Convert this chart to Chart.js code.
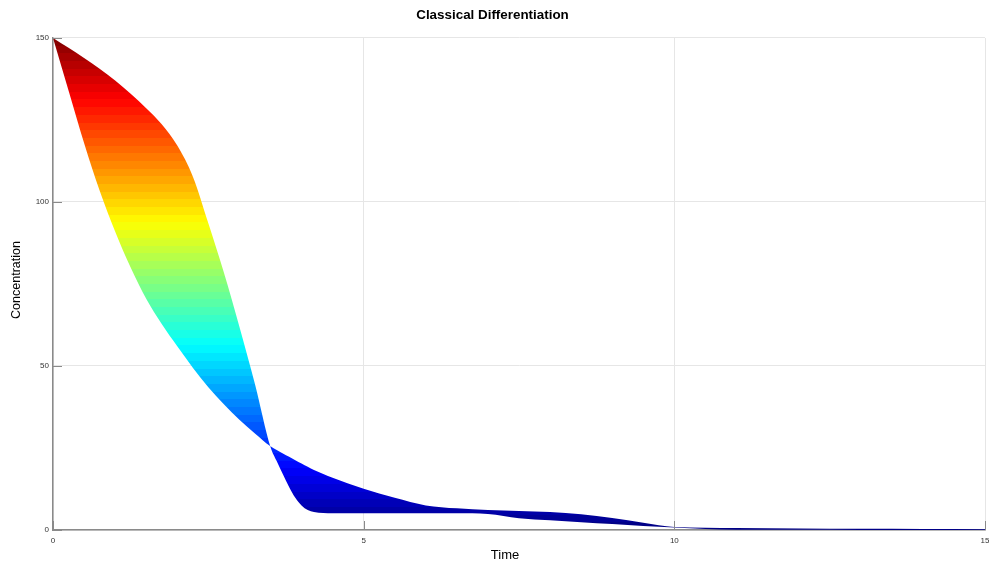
<!DOCTYPE html>
<html>
<head>
<meta charset="utf-8">
<title>Classical Differentiation</title>
<script src="https://cdn.jsdelivr.net/npm/chart.js@4.4.1/dist/chart.umd.min.js"></script>
<style>
  html, body { margin: 0; padding: 0; background: #fff; }
  canvas { display: block; }
</style>
</head>
<body>
<canvas id="chart" width="989" height="565"></canvas>
<script>
// time grid shared by both curves
const times = [0, 0.25, 0.5, 0.75, 1, 1.25, 1.5, 1.75, 2, 2.25, 2.5, 2.75, 3, 3.25, 3.5, 3.6, 3.7, 3.8, 3.9, 4, 4.1, 4.2, 4.35, 4.5, 5, 5.5, 6, 6.5, 7, 7.5, 8, 8.5, 9, 9.5, 10, 11, 12, 13, 14, 15];
// right-hand curve (slow start, steep drop, flat plateau)
const concA = [150, 147, 143.9, 140.6, 137, 133, 128.6, 123.7, 117.2, 107.8, 93.5, 78.5, 62, 44.5, 25.3, 21, 17, 13.1, 9.8, 7.5, 6.1, 5.45, 5.15, 5.1, 5.1, 5.1, 5.1, 5.1, 4.85, 3.6, 2.95, 2.4, 1.8, 1.2, 0.8, 0.1, 0.05, 0.03, 0.02, 0.01];
// left-hand curve (fast decay)
const concB = [150, 134, 118, 103.5, 91, 80, 70.5, 62.8, 56, 49.5, 43.5, 38.3, 33.6, 29.4, 25.5, 24.4, 23.3, 22.3, 21.3, 20.3, 19.3, 18.3, 17.1, 15.9, 12.6, 9.8, 7.5, 6.6, 6.1, 5.8, 5.45, 4.8, 3.65, 2.2, 0.9, 0.6, 0.45, 0.35, 0.3, 0.25];
const xTicks = [0, 5, 10, 15];
const yTicks = [0, 50, 100, 150];

// jet colormap, v in [0,1]
function jet(v) {
    const c = x => Math.round(255 * Math.min(1, Math.max(0, x)));
    return `rgb(${c(1.5 - Math.abs(4 * v - 3))},${c(1.5 - Math.abs(4 * v - 2))},${c(1.5 - Math.abs(4 * v - 1))})`;
}

let gradCache = null;
function jetFill(context) {
    const chart = context.chart;
    const { ctx, chartArea, scales } = chart;
    if (!chartArea) return null;
    const key = chartArea.top + ':' + chartArea.bottom;
    if (gradCache && gradCache.key === key) return gradCache.grad;
    const y0 = scales.y.getPixelForValue(0);
    const y1 = scales.y.getPixelForValue(150);
    const grad = ctx.createLinearGradient(0, y0, 0, y1);
    const levels = 64;
    for (let i = 0; i < levels; i++) {
        const col = jet((i + 0.5) / levels);
        grad.addColorStop(i / levels, col);
        grad.addColorStop((i + 1) / levels, col);
    }
    gradCache = { key, grad };
    return grad;
}

const font = 'Liberation Sans, Arial, Helvetica, sans-serif';

// small tick marks inside the plot area + the x axis label
const insideTicks = {
    id: 'insideTicks',
    afterDraw(chart) {
        const { ctx, chartArea, scales } = chart;
        ctx.save();
        ctx.strokeStyle = '#8a8a8a';
        ctx.lineWidth = 1;
        ctx.beginPath();
        xTicks.forEach(v => {
            const x = Math.round(scales.x.getPixelForValue(v)) + 0.5;
            ctx.moveTo(x, chartArea.bottom);
            ctx.lineTo(x, chartArea.bottom - 9);
        });
        yTicks.forEach(v => {
            const y = Math.round(scales.y.getPixelForValue(v)) + 0.5;
            ctx.moveTo(chartArea.left, y);
            ctx.lineTo(chartArea.left + 9, y);
        });
        ctx.stroke();

        ctx.fillStyle = '#000';
        ctx.font = '13px ' + font;
        ctx.textAlign = 'center';
        ctx.textBaseline = 'middle';
        ctx.fillText('Time', 505, 555);

        // y axis label
        ctx.translate(17, 280);
        ctx.rotate(-Math.PI / 2);
        ctx.font = '12.5px ' + font;
        ctx.fillText('Concentration', 0, 0);
        ctx.restore();
    }
};

new Chart(document.getElementById('chart'), {
    type: 'line',
    data: {
        datasets: [{
            label: 'Curve A',
            data: times.map((t, i) => ({ x: t, y: concA[i] })),
            fill: '+1',
            backgroundColor: jetFill,
            borderColor: 'rgba(0,0,0,0)',
            borderWidth: 0,
            pointRadius: 0,
            cubicInterpolationMode: 'monotone'
        }, {
            label: 'Curve B',
            data: times.map((t, i) => ({ x: t, y: concB[i] })),
            fill: false,
            borderColor: 'rgba(0,0,0,0)',
            borderWidth: 0,
            pointRadius: 0,
            cubicInterpolationMode: 'monotone'
        }]
    },
    options: {
        responsive: false,
        animation: false,
        devicePixelRatio: 1,
        layout: { padding: { left: 0, right: 4, top: 0, bottom: 0 } },
        plugins: {
            legend: { display: false },
            tooltip: { enabled: false },
            title: {
                display: true,
                text: 'Classical Differentiation',
                color: '#000',
                font: { family: font, size: 13.4, weight: 'bold' },
                padding: { top: 7.3, bottom: 14.6 }
            }
        },
        scales: {
            x: {
                type: 'linear',
                min: 0,
                max: 15,
                afterFit: s => { s.height = 35; s.paddingLeft = 0; s.paddingRight = 0; },
                afterBuildTicks: s => { s.ticks = xTicks.map(v => ({ value: v })); },
                ticks: { color: '#333', font: { family: font, size: 8 }, padding: 6, maxRotation: 0 },
                grid: { color: '#e6e6e6', drawTicks: false },
                border: { color: '#8a8a8a', width: 1.5 }
            },
            y: {
                min: 0,
                max: 150,
                afterFit: s => { s.width = 53; },
                afterBuildTicks: s => { s.ticks = yTicks.map(v => ({ value: v })); },
                ticks: { color: '#333', font: { family: font, size: 8 }, padding: 4 },
                grid: { color: '#e6e6e6', drawTicks: false },
                border: { color: '#8a8a8a', width: 1.5 }
            }
        }
    },
    plugins: [insideTicks]
});
</script>
</body>
</html>
